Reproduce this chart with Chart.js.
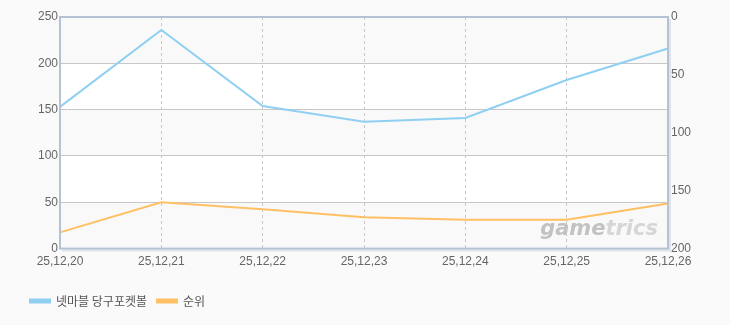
<!DOCTYPE html>
<html>
<head>
<meta charset="utf-8">
<script src="https://cdn.jsdelivr.net/npm/chart.js@4.4.1/dist/chart.umd.min.js"></script>
<style>
  html, body { margin: 0; padding: 0; background: #fafafa; }
  #wrap { width: 730px; height: 325px; }
</style>
</head>
<body>
<div id="wrap"><canvas id="myChart" width="730" height="325"></canvas></div>
<script>
// 데이터
const dates = ['25,12,20', '25,12,21', '25,12,22', '25,12,23', '25,12,24', '25,12,25', '25,12,26'];
const players = [153, 236, 154, 137, 141, 182, 216];
const ranks = [186, 160, 166, 173, 175, 175, 161];
const leftTicks = [0, 50, 100, 150, 200, 250];
const rightTicks = [0, 50, 100, 150, 200];

const tickFont = { family: 'Liberation Sans, Arial, sans-serif', size: 12 };

// 배경 줄무늬 + 테두리 + 워터마크
const framePlugin = {
    id: 'frame',
    beforeDraw(chart) {
        const { ctx, chartArea: a, scales } = chart;
        const y = scales.y;
        ctx.save();
        for (let i = 0; i < leftTicks.length - 1; i++) {
            const top = y.getPixelForValue(leftTicks[i + 1]);
            const bot = y.getPixelForValue(leftTicks[i]);
            ctx.fillStyle = (i % 2 === 0) ? '#f9f9f9' : '#ffffff';
            ctx.fillRect(a.left, top, a.right - a.left, bot - top);
        }
        // 워터마크
        ctx.font = 'italic bold 21px "DejaVu Sans", sans-serif';
        ctx.textAlign = 'right';
        ctx.textBaseline = 'alphabetic';
        const wx = a.right - 10, wy = a.bottom - 14;
        ctx.fillStyle = 'rgba(205,205,205,0.8)';
        ctx.fillText('trics', wx, wy);
        const w2 = ctx.measureText('trics').width;
        ctx.fillStyle = 'rgba(175,175,175,0.75)';
        ctx.fillText('game', wx - w2, wy);
        ctx.restore();
    },
    afterDraw(chart) {
        const { ctx, chartArea: a } = chart;
        ctx.save();
        ctx.strokeStyle = 'rgba(150,160,175,0.25)';
        ctx.lineWidth = 2;
        ctx.beginPath();
        ctx.moveTo(a.right + 2, a.top + 2);
        ctx.lineTo(a.right + 2, a.bottom + 2);
        ctx.lineTo(a.left + 2, a.bottom + 2);
        ctx.stroke();
        ctx.strokeStyle = '#b3c3d5';
        ctx.lineWidth = 2;
        ctx.strokeRect(a.left, a.top, a.right - a.left, a.bottom - a.top);
        ctx.restore();
    }
};

const ctx = document.getElementById('myChart').getContext('2d');
const myChart = new Chart(ctx, {
    type: 'line',
    data: {
        labels: dates,
        datasets: [{
            label: '넷마블 당구포켓볼',
            data: players,
            yAxisID: 'y',
            borderColor: '#8fd0f2',
            backgroundColor: '#8fd0f2',
            borderWidth: 2,
            pointRadius: 0,
            tension: 0
        }, {
            label: '순위',
            data: ranks,
            yAxisID: 'y1',
            borderColor: '#ffc064',
            backgroundColor: '#ffc064',
            borderWidth: 2,
            pointRadius: 0,
            tension: 0
        }]
    },
    options: {
        responsive: false,
        animation: false,
        layout: { padding: { left: 20, right: 0, top: 17, bottom: 8 } },
        plugins: {
            legend: {
                position: 'bottom',
                align: 'start',
                labels: {
                    boxWidth: 20,
                    boxHeight: 3,
                    padding: 10,
                    color: '#555',
                    font: { family: '"Noto Sans CJK KR", sans-serif', size: 12 }
                }
            },
            tooltip: { enabled: false }
        },
        scales: {
            x: {
                offset: false,
                afterFit(scale) { scale.height += 10; },
                grid: { color: '#c8c8c8', tickLength: 0 },
                border: { display: false, dash: [3, 3] },
                ticks: { color: '#666', font: tickFont, padding: 6, maxRotation: 0, autoSkip: false }
            },
            y: {
                position: 'left',
                min: 0,
                max: 250,
                afterFit(scale) { scale.width = 40; },
                afterBuildTicks(scale) { scale.ticks = leftTicks.map(v => ({ value: v })); },
                grid: { color: '#c8c8c8', tickLength: 0 },
                border: { display: false },
                ticks: { color: '#666', font: tickFont, padding: 2 }
            },
            y1: {
                position: 'right',
                min: 0,
                max: 200,
                reverse: true,
                afterFit(scale) { scale.width = 62; },
                afterBuildTicks(scale) { scale.ticks = rightTicks.map(v => ({ value: v })); },
                grid: { display: false, tickLength: 0 },
                border: { display: false },
                ticks: { color: '#666', font: tickFont, padding: 3 }
            }
        }
    },
    plugins: [framePlugin]
});
</script>
</body>
</html>
